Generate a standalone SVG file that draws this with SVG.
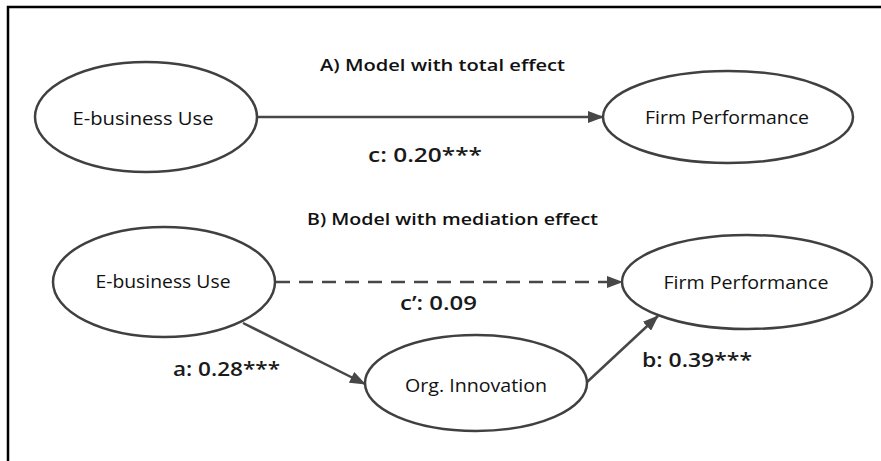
<svg xmlns="http://www.w3.org/2000/svg" width="881" height="461" viewBox="0 0 881 461">
<style>
.node{fill:#fff;stroke:#404040;stroke-width:2.5}
.lbl{font-family:"Open Sans","Noto Sans",sans-serif;font-size:18px;fill:#111;text-anchor:middle}
.ttl{font-family:"Open Sans","Noto Sans",sans-serif;font-size:17px;font-weight:600;fill:#111}
.coef{font-family:"Open Sans","Noto Sans",sans-serif;font-size:19px;font-weight:600;fill:#1a1a1a}
.edge{stroke:#474747;stroke-width:2.5;fill:none}
.dash{stroke-dasharray:14 9}
</style>
<defs>
<marker id="ah" markerWidth="16" markerHeight="12" refX="15" refY="6" orient="auto" markerUnits="userSpaceOnUse">
<path d="M0,0 L16,6 L0,12 Z" fill="#474747"/>
</marker>
</defs>
<rect width="881" height="461" fill="#fff"/>
<path d="M8,461 V7 H881" fill="none" stroke="#000" stroke-width="2.5"/>
<text class="ttl" x="320" y="71" textLength="245" lengthAdjust="spacingAndGlyphs">A) Model with total effect</text>
<text class="ttl" x="307" y="225" textLength="291" lengthAdjust="spacingAndGlyphs">B) Model with mediation effect</text>
<g id="connectors">
<line class="edge" x1="258" y1="117" x2="603" y2="117" marker-end="url(#ah)"/>
<line class="edge dash" x1="276" y1="282" x2="622" y2="282" marker-end="url(#ah)"/>
<line class="edge" x1="243" y1="323" x2="365" y2="384" marker-end="url(#ah)"/>
<line class="edge" x1="586" y1="383" x2="658" y2="316" marker-end="url(#ah)"/>
<text class="coef" x="368" y="162" textLength="114" lengthAdjust="spacingAndGlyphs">c: 0.20***</text>
<text class="coef" x="400" y="310" textLength="77" lengthAdjust="spacingAndGlyphs">c’: 0.09</text>
<text class="coef" x="173" y="376" textLength="107" lengthAdjust="spacingAndGlyphs">a: 0.28***</text>
<text class="coef" x="642" y="367" textLength="110" lengthAdjust="spacingAndGlyphs">b: 0.39***</text>
</g>
<g id="ebiz-a">
<ellipse class="node" cx="146" cy="117" rx="111" ry="55"/>
<text class="lbl" x="143" y="125" textLength="141" lengthAdjust="spacingAndGlyphs">E-business Use</text>
</g>
<g id="firm-a">
<ellipse class="node" cx="728" cy="117" rx="125" ry="46"/>
<text class="lbl" x="727" y="124" textLength="164" lengthAdjust="spacingAndGlyphs">Firm Performance</text>
</g>
<g id="ebiz-b">
<ellipse class="node" cx="164" cy="282" rx="111" ry="55"/>
<text class="lbl" x="163" y="288" textLength="135" lengthAdjust="spacingAndGlyphs">E-business Use</text>
</g>
<g id="firm-b">
<ellipse class="node" cx="747" cy="282" rx="125" ry="47"/>
<text class="lbl" x="746" y="289" textLength="165" lengthAdjust="spacingAndGlyphs">Firm Performance</text>
</g>
<g id="orginno">
<ellipse class="node" cx="476" cy="383" rx="111" ry="48"/>
<text class="lbl" x="476" y="392" textLength="142" lengthAdjust="spacingAndGlyphs">Org. Innovation</text>
</g>
</svg>
